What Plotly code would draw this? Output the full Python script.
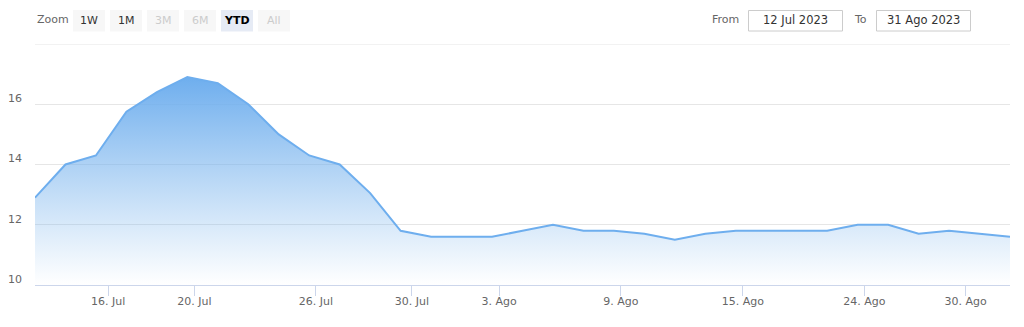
import plotly.graph_objects as go

# ---- data ----
values = [12.9, 14.0, 14.3, 15.75, 16.4, 16.9, 16.7, 16.0, 15.0, 14.3, 14.0, 13.05,
          11.8, 11.6, 11.6, 11.6, 11.8, 12.0, 11.8, 11.8, 11.7, 11.5, 11.7, 11.8,
          11.8, 11.8, 11.8, 12.0, 12.0, 11.7, 11.8, 11.7, 11.6]
x_tick_labels = ["16. Jul", "20. Jul", "26. Jul", "30. Jul", "3. Ago",
                 "9. Ago", "15. Ago", "24. Ago", "30. Ago"]
x_tick_positions = [2.40, 5.23, 9.22, 12.37, 15.23, 19.23, 23.23, 27.22, 30.54]
y_tick_values = [10, 12, 14, 16, 18]
y_tick_labels = ["10", "12", "14", "16", ""]
zoom_buttons = ["1W", "1M", "3M", "6M", "YTD", "All"]
from_date = "12 Jul 2023"
to_date = "31 Ago 2023"

W, H = 1024, 327
L, R, T, B = 35, 14, 44, 42
PW, PH = W - L - R, H - T - B
FONT = "DejaVu Sans"


def px(x):
    return (x - L) / PW


def py(y):
    return (H - B - y) / PH


idx = list(range(len(values)))
line_col = "rgb(110,174,238)"

fig = go.Figure()
fig.add_trace(go.Scatter(
    x=idx, y=values, mode="lines",
    line=dict(color=line_col, width=2),
    fill="tozeroy",
    fillgradient=dict(
        type="vertical",
        start=10, stop=max(values),
        colorscale=[[0, "rgba(124,181,236,0)"], [1, "rgba(110,174,238,1)"]],
    ),
    hoverinfo="x+y",
    showlegend=False,
))

shapes = []
annotations = []

# top grid line (y = 18)
shapes.append(dict(type="line", xref="paper", yref="y", x0=0, x1=1,
                   y0=y_tick_values[-1], y1=y_tick_values[-1],
                   line=dict(color="#e6e6e6", width=1), layer="below"))

# zoom label
annotations.append(dict(x=px(35), y=py(20), xref="paper", yref="paper", text="Zoom",
                        showarrow=False, xanchor="left", yanchor="middle",
                        font=dict(family=FONT, size=11, color="#666666")))
for i, lab in enumerate(zoom_buttons):
    x0 = 73 + 37 * i
    x1 = x0 + 32
    selected = lab == "YTD"
    disabled = lab in ("3M", "6M", "All")
    shapes.append(dict(type="rect", xref="paper", yref="paper",
                       x0=px(x0), x1=px(x1), y0=py(31.5), y1=py(10),
                       fillcolor="#e6ebf5" if selected else "#f7f7f7",
                       line=dict(width=0), layer="above"))
    annotations.append(dict(x=px((x0 + x1) / 2), y=py(20.5), xref="paper", yref="paper",
                            text=f"<b>{lab}</b>" if selected else lab,
                            showarrow=False, xanchor="center", yanchor="middle",
                            font=dict(family=FONT, size=11,
                                      color="#cccccc" if disabled else "#000000" if selected else "#333333")))

# from / to inputs
annotations.append(dict(x=px(741), y=py(20), xref="paper", yref="paper", text="From",
                        showarrow=False, xanchor="right", yanchor="middle",
                        font=dict(family=FONT, size=11, color="#666666")))
annotations.append(dict(x=px(869), y=py(20), xref="paper", yref="paper", text="To",
                        showarrow=False, xanchor="right", yanchor="middle",
                        font=dict(family=FONT, size=11, color="#666666")))
for (x0, x1, txt) in [(748.5, 842.5, from_date), (876.5, 970.5, to_date)]:
    shapes.append(dict(type="rect", xref="paper", yref="paper",
                       x0=px(x0), x1=px(x1), y0=py(31), y1=py(10.5),
                       fillcolor="white", line=dict(color="#cccccc", width=1), layer="above"))
    annotations.append(dict(x=px((x0 + x1) / 2), y=py(20), xref="paper", yref="paper", text=txt,
                            showarrow=False, xanchor="center", yanchor="middle",
                            font=dict(family=FONT, size=11.5, color="#333333")))

fig.update_layout(
    width=W, height=H,
    margin=dict(l=L, r=R, t=T, b=B, autoexpand=False),
    paper_bgcolor="white", plot_bgcolor="white",
    font=dict(family=FONT, size=11, color="#666666"),
    xaxis=dict(
        range=[0, len(values) - 1], automargin=False,
        tickmode="array", tickvals=x_tick_positions, ticktext=x_tick_labels,
        showgrid=False, zeroline=False,
        showline=True, linecolor="#ccd6eb", linewidth=1,
        ticks="outside", ticklen=10, tickcolor="#ccd6eb", tickwidth=1,
        ticklabelstandoff=-4,
        tickfont=dict(family=FONT, size=11, color="#666666"),
    ),
    yaxis=dict(
        range=[10, 18], automargin=False,
        tickmode="array", tickvals=y_tick_values, ticktext=y_tick_labels,
        showgrid=True, gridcolor="#e6e6e6", gridwidth=1,
        zeroline=False, showline=False, ticks="",
        ticklabelshift=-6, ticklabelstandoff=12,
        tickfont=dict(family=FONT, size=11, color="#666666"),
    ),
    shapes=shapes,
    annotations=annotations,
    hovermode="x",
)

fig.write_html("out.html")
